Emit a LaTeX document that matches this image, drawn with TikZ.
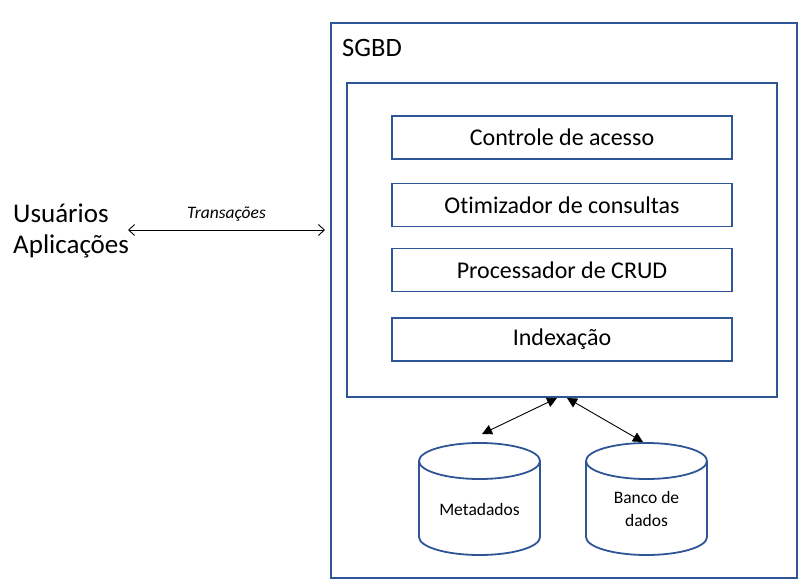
\documentclass[tikz,border=0pt]{standalone}
\usepackage{fontspec}
\setmainfont{Carlito}[Ligatures={NoCommon}]
\usetikzlibrary{arrows.meta}
\definecolor{boxblue}{RGB}{47,85,151}
\tikzset{
  bluebox/.style={draw=boxblue, line width=1.8pt, inner sep=0pt},
  modbox/.style={bluebox, minimum width=340pt, minimum height=43pt, font=\fontsize{24}{28}\selectfont},
  cyl/.style={draw=boxblue, line width=1.8pt},
  dbarrow/.style={{Triangle[width=10pt,length=10pt]}-{Triangle[width=10pt,length=10pt]}, line width=0.9pt},
  txarrow/.style={{Straight Barb[length=6pt,width=11pt]}-{Straight Barb[length=6pt,width=11pt]}, line width=0.9pt},
}
\begin{document}
\begin{tikzpicture}[x=1pt,y=-1pt]
\useasboundingbox (0,0) rectangle (811,588);
% outer and inner boxes
\node[bluebox, minimum width=466pt, minimum height=555pt] (sgbd) at (564,300.5) {};
\node[anchor=base west, font=\fontsize{26.5}{30}\selectfont, inner sep=0pt] (sgbdlbl) at (342,56.7) {SGBD};
\node[bluebox, minimum width=430pt, minimum height=314pt] (inner) at (562,240) {};
% modules
\node[modbox] (acesso) at (562,137.5) {Controle de acesso};
\node[modbox] (otim) at (562,205) {Otimizador de consultas};
\node[modbox] (crud) at (562,270) {Processador de CRUD};
\node[modbox] (idx) at (562,339.5) {Indexação};
% users
\node[anchor=west, align=left, inner sep=0pt, font=\fontsize{27}{31}\selectfont] (users) at (13,230.5) {Usuários\\Aplicações};
\coordinate (txl) at (128,230);
\coordinate (txr) at (325,230);
\draw[txarrow] (txl) -- (txr) node[midway, above=5pt, font=\fontsize{17.5}{20}\selectfont\itshape] (txlbl) {Transações};
% cylinders
\draw[cyl] (419,461) -- (419,537) arc[start angle=180,end angle=0,x radius=60.5,y radius=18] -- (540,461);
\draw[cyl] (479.5,461) ellipse [x radius=60.5, y radius=18];
\node[font=\fontsize{17.5}{20}\selectfont] (meta) at (479.5,509) {Metadados};
\draw[cyl] (586,461) -- (586,537) arc[start angle=180,end angle=0,x radius=60.5,y radius=18] -- (707,461);
\draw[cyl] (646.5,461) ellipse [x radius=60.5, y radius=18];
\node[font=\fontsize{17.5}{23}\selectfont, align=center] (banco) at (646.5,508.5) {Banco de\\dados};
\coordinate (metatop) at (482,434);
\coordinate (bancotop) at (643,442);
\coordinate (inA) at (557,398);
\coordinate (inB) at (567,398);
\draw[dbarrow] (inA) -- (metatop);
\draw[dbarrow] (inB) -- (bancotop);
\end{tikzpicture}
\end{document}
